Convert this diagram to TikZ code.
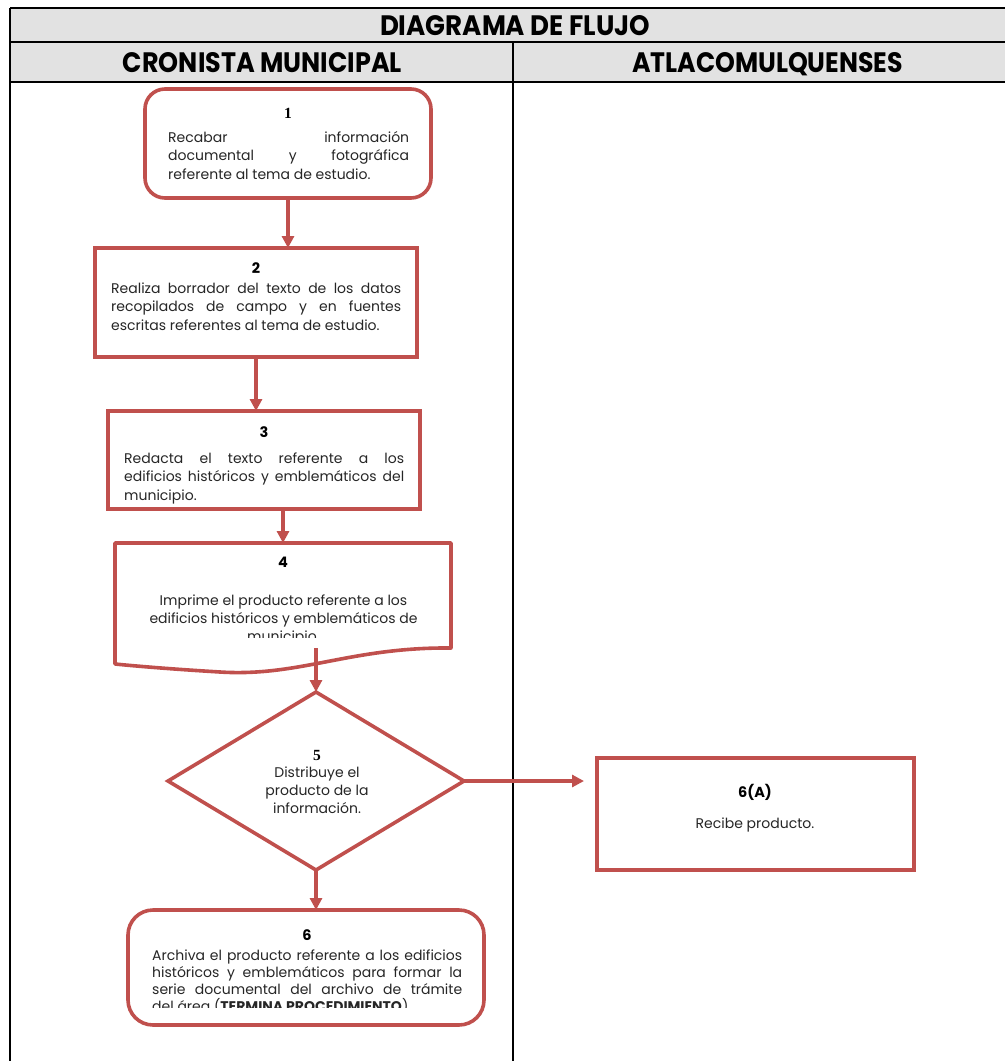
\documentclass[tikz,border=0pt]{standalone}
\usepackage{fontspec}
\setmainfont{Poppins}
\newfontfamily\numserif{Liberation Serif}
\usetikzlibrary{arrows.meta,shapes.geometric}
\definecolor{boxred}{RGB}{192,80,77}
\definecolor{hdrgray}{RGB}{226,226,226}
\definecolor{txt}{RGB}{38,38,38}
\begin{document}
\begin{tikzpicture}[x=1pt,y=-1pt,
  box/.style={draw=boxred, line width=3.6pt, fill=white, inner sep=0pt, outer sep=0pt},
  conn/.style={draw=boxred, line width=3.6pt, -{Triangle[length=12pt,width=12pt]}},
  grid/.style={draw=black, line width=1.3pt},
  hdr/.style={inner sep=0pt, anchor=base, font=\bfseries},
  num/.style={inner sep=0pt, anchor=base, text=black, font=\fontsize{14.5}{16}\selectfont\bfseries},
  snum/.style={inner sep=0pt, anchor=base, text=black, font=\fontsize{15.5}{16}\selectfont\numserif\bfseries},
  body/.style={inner sep=0pt, anchor=base west, text=txt, font=\fontsize{14}{18.6}\selectfont},
  cbody/.style={inner sep=0pt, anchor=base, text=txt, font=\fontsize{14}{18.2}\selectfont}]
\useasboundingbox (0,0) rectangle (1005,1061);
% table
\fill[hdrgray] (10,8) rectangle (1005,82);
\draw[grid] (10,8) -- (1005,8);
\draw[grid] (10,42) -- (1005,42);
\draw[grid] (10,82) -- (1005,82);
\draw[grid] (10,8) -- (10,1061);
\draw[grid] (513,42) -- (513,1061);
\node[hdr] (title) at (515,35.5) {\resizebox{270pt}{20pt}{DIAGRAMA DE FLUJO}};
\node[hdr] (laneA) at (262.5,72) {\resizebox{279pt}{20pt}{CRONISTA MUNICIPAL}};
\node[hdr] (laneB) at (767.5,72) {\resizebox{271pt}{20pt}{ATLACOMULQUENSES}};
% shapes
\node[box, rounded corners=20pt, minimum width=286pt, minimum height=109pt] (n1) at (288,143.5) {};
\node[box, minimum width=322pt, minimum height=109pt] (n2) at (256,302.5) {};
\node[box, minimum width=312pt, minimum height=98pt] (n3) at (264,460) {};
\node[inner sep=0pt, outer sep=0pt, minimum width=336pt, minimum height=105pt] (n4) at (283,595.5) {};
\draw[draw=boxred, line width=3.6pt, fill=white, line join=round]
  (n4.north west) -- (n4.north east) -- (n4.south east)
  .. controls (350,647) and (300,677) .. (220,672)
  .. controls (170,669) and (135,666) .. (115,664) -- cycle;
\node[box, shape=diamond, minimum width=296pt, minimum height=178pt] (n5) at (316,781) {};
\node[box, minimum width=317pt, minimum height=112pt] (n6a) at (755.5,814) {};
\node[box, rounded corners=25pt, minimum width=356pt, minimum height=115pt] (n6) at (306,967.5) {};
% connectors
\draw[conn] (n1.south) -- (n1.south |- n2.north);
\draw[conn] (n2.south) -- (n2.south |- n3.north);
\draw[conn] (n3.south -| n4.north) -- (n4.north);
\draw[conn] (n5.north |- n4.south) -- (n5.north);
\draw[conn, shorten >=13pt] (n5.east) -- (n5.east -| n6a.west);
\draw[conn] (n5.south) -- (n5.south |- n6.north);
% texts
\node[snum] (k1) at (288,118) {1};
\node[body] (t1) at (168,142) {\parbox[t]{241pt}{Recabar información\linebreak documental y fotográfica\linebreak referente al tema de estudio.}};
\node[num] (k2) at (256,273) {2};
\node[body] (t2) at (111,293) {\parbox[t]{290pt}{Realiza borrador del texto de los datos\linebreak recopilados de campo y en fuentes\linebreak escritas referentes al tema de estudio.}};
\node[num] (k3) at (264,437) {3};
\node[body] (t3) at (124,463) {\parbox[t]{280pt}{Redacta el texto referente a los\linebreak edificios históricos y emblemáticos del\linebreak municipio.}};
\node[num] (k4) at (283,567) {4};
\begin{scope}
\clip (113,541) rectangle (453,637);
\node[cbody] (t4) at (283.5,605) {\parbox[t]{330pt}{\centering Imprime el producto referente a los\\ edificios históricos y emblemáticos de\\ municipio.}};
\end{scope}
\node[snum] (k5) at (317,760) {5};
\node[cbody] (t5) at (317,777) {\parbox[t]{160pt}{\centering Distribuye el\\ producto de la\\ información.}};
\node[num] (k6a) at (755,797) {6\kern0pt(\kern0pt A\kern0pt)};
\node[cbody] (t6a) at (755,828) {Recibe producto.};
\node[num] (k6) at (307,940) {6};
\begin{scope}
\clip (126,908) rectangle (486,1007);
\node[body, font=\fontsize{14}{17}\selectfont] (t6) at (152,960) {\parbox[t]{310pt}{Archiva el producto referente a los edificios\linebreak históricos y emblemáticos para formar la\linebreak serie documental del archivo de trámite\linebreak del área (\textbf{TERMINA PROCEDIMIENTO})}};
\end{scope}
\end{tikzpicture}
\end{document}
